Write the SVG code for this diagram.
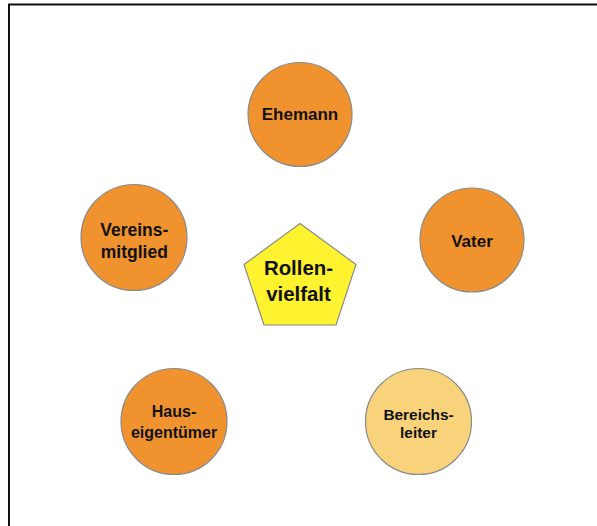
<svg xmlns="http://www.w3.org/2000/svg" width="597" height="526" viewBox="0 0 597 526">
<style>
.c{stroke:#8a8a8a;stroke-width:1.2}
.o{fill:#F0932F}
.l{fill:#F9D27C}
.t{font-family:"Liberation Sans",Arial,sans-serif;font-weight:bold;fill:#111;text-anchor:middle}
</style>
<rect width="597" height="526" fill="#fff"/>
<path d="M9,527 V4.5 H598" fill="none" stroke="#111" stroke-width="2"/>
<g id="ehemann"><circle class="c o" cx="300" cy="114.5" r="52"/><text class="t" x="300" y="120" font-size="17">Ehemann</text></g>
<g id="vater"><circle class="c o" cx="472" cy="240" r="52"/><text class="t" x="472" y="246.5" font-size="17">Vater</text></g>
<g id="vereinsmitglied"><circle class="c o" cx="134" cy="237.5" r="53"/><text class="t" x="134.3" y="236" font-size="17.5">Vereins-</text><text class="t" x="134.3" y="257.5" font-size="17.5">mitglied</text></g>
<g id="hauseigentuemer"><circle class="c o" cx="174" cy="421.5" r="53"/><text class="t" x="174" y="416.5" font-size="16">Haus-</text><text class="t" x="174" y="437.5" font-size="16">eigentümer</text></g>
<g id="bereichsleiter"><circle class="c l" cx="418.5" cy="421.5" r="53"/><text class="t" x="418.5" y="420" font-size="15.4">Bereichs-</text><text class="t" x="418.5" y="438" font-size="15.4">leiter</text></g>
<g id="rollenvielfalt"><polygon points="300,223.5 356,264.5 336,325 264,325 244,264.5" fill="#FFF22E" stroke="#8a8a8a" stroke-width="1.2"/><text class="t" x="298.5" y="274.5" font-size="20.4">Rollen-</text><text class="t" x="298.5" y="301" font-size="20.4">vielfalt</text></g>
<g id="connectors"/>
</svg>
